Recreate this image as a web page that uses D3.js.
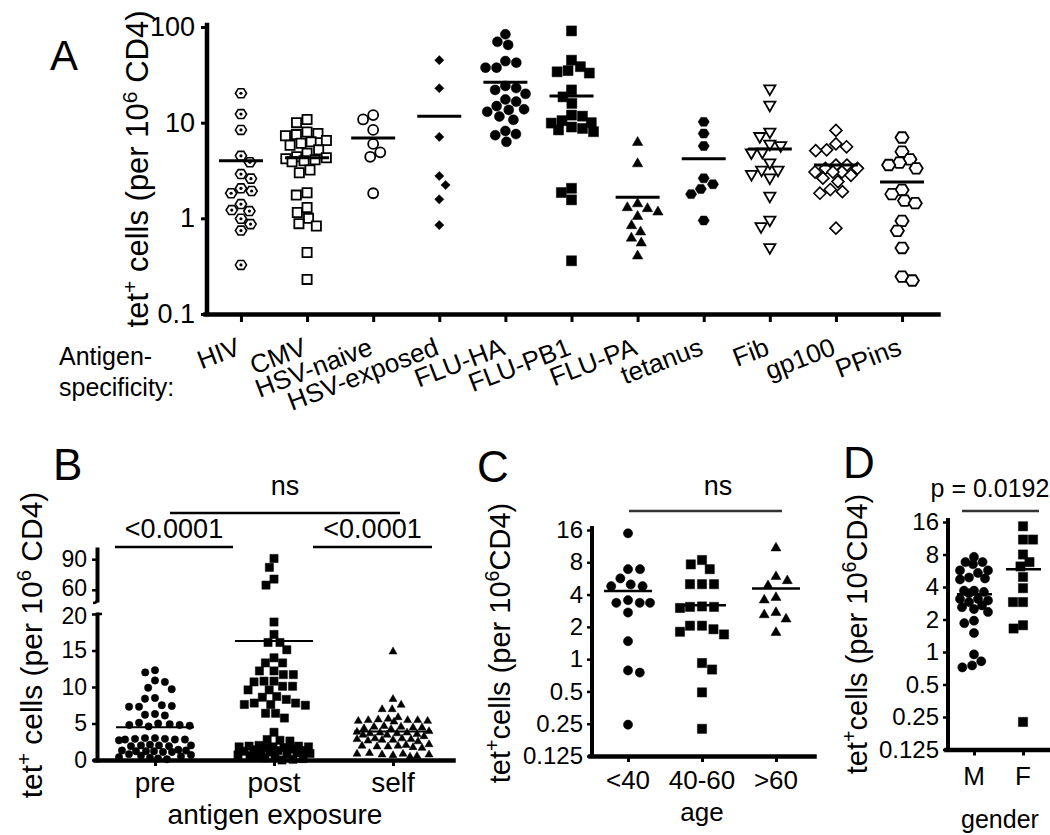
<!DOCTYPE html>
<html><head><meta charset="utf-8">
<script src="https://cdn.jsdelivr.net/npm/d3@7"></script>
<style>
body{margin:0;background:#fff}
svg{display:block}
text{font-family:"Liberation Sans",Arial,Helvetica,sans-serif;fill:#000}
</style>
</head><body>
<svg id="c" width="1050" height="835"></svg>
<script>
// ---------------- DATA ----------------
// Panel A
const catsA = ["HIV","CMV","HSV-naive","HSV-exposed","FLU-HA","FLU-PB1","FLU-PA","tetanus","Fib","gp100","PPins"];
const hivVals = [20.3,12.3,8.4,4.5,3.86,2.9,2.6,2.06,1.93,1.83,1.41,1.22,1.19,0.99,0.87,0.745,0.326];
const cmvVals = [10.8,10.0,8.0,7.7,7.5,7.3,6.5,6.3,6.1,5.8,5.2,4.8,4.4,4.3,4.2,4.1,4.0,3.9,3.2,3.0,1.85,1.75,1.3,1.15,1.0,0.88,0.83,0.44,0.23];
const hsvNaiveVals = [12.0,10.8,8.4,6.0,4.9,4.4,1.83];
const hsvExposedVals = [45,22.9,7.1,2.77,2.23,1.58,0.85];
const fluHaVals = [84,70,65,44,42.4,37.6,37.6,24.2,23,22,20,17.5,16.6,14.9,13.8,13.6,13,11.6,10.7,8.2,7.6,7.4,6.3];
const fluPb1Vals = [91,45,38.5,35,34,33,22,18.6,15.9,12.0,11.7,10.5,10.0,9.9,9.0,8.7,8.4,8.05,2.06,1.86,1.56,0.36];
const fluPaVals = [6.3,3.77,1.44,1.31,1.28,1.18,1.06,0.85,0.73,0.63,0.56,0.41];
const tetanusVals = [10.2,7.7,5.7,2.62,2.27,2.03,1.79,0.95];
const fibVals = [22.3,15.1,7.9,7.1,5.9,5.7,4.86,4.8,3.77,3.16,3.16,2.85,2.62,1.69,0.95,0.81,0.49];
const gp100Vals = [8.3,6.0,5.6,5.2,5.1,3.6,3.6,3.33,3.33,3.05,3.05,3.05,2.82,2.63,2.42,2.0,1.9,1.83,0.79];
const ppinsVals = [7.0,4.98,4.14,3.82,3.61,3.33,1.98,1.79,1.53,1.44,0.94,0.74,0.49,0.246,0.224];
const meansA = [4.0,4.3,6.9,11.7,26.4,19.0,1.66,4.2,5.3,3.6,2.4];
const ticksA = [0.1,1,10,100];

// Panel B
const catsB = ["pre","post","self"];
const preVals = [12.3,12.0,10.9,10.7,9.9,9.7,8.5,8.4,7.5,7.4,7.3,7.3,6.3,6.2,6.1,5.1,5.0,4.9,4.8,4.8,4.7,4.6,3.0,3.0,2.9,2.9,2.8,2.8,2.8,2.7,2.1,2.0,2.0,2.0,1.9,1.9,1.4,1.3,1.3,1.2,1.2,1.2,1.1,1.1,0.8,0.7,0.6,0.5,0.4,0.3,0.2,0.1];
const postVals = [90.7,82,70.5,64.6,18.9,17.2,16.1,16.1,15.1,14.0,13.3,13.3,12.2,12.2,11.7,11.7,10.8,10.8,10.7,10.1,10.1,9.6,9.6,8.7,8.6,8.3,7.8,7.8,7.6,7.6,7.5,6.4,6.4,5.75,3.8,2.8,2.7,2.6,2.0,1.9,1.9,1.8,1.8,1.8,1.7,1.7,1.5,1.4,1.3,1.3,1.2,1.2,1.1,1.0,0.9,0.8,0.7,0.6,0.5,0.4,0.3,0.2,0.1,0.0];
const selfVals = [14.9,8.4,7.6,7.0,7.0,5.9,5.7,5.6,5.5,5.5,5.5,5.4,5.4,5.3,4.7,4.6,4.6,4.5,4.5,4.4,4.3,4.0,3.9,3.8,3.8,3.7,3.7,3.6,3.5,3.5,3.3,3.0,3.0,2.9,2.9,2.8,2.8,2.7,2.6,2.2,2.1,2.0,2.0,1.9,1.9,1.8,1.7,1.0,0.9,0.9,0.8,0.8,0.7,0.6,0.5];
const meansB = [4.5,16.3,3.9];
const ticksBLow = [0,5,10,15,20];
const ticksBHigh = [60,90];
const sigB = [{a:"pre",b:"post",label:"<0.0001"},{a:"post",b:"self",label:"<0.0001"},{a:"pre",b:"self",label:"ns"}];

// Panel C
const catsC = ["<40","40-60",">60"];
const ageLt40 = [14.9,6.9,6.9,5.66,4.97,4.79,4.79,3.55,3.35,3.35,3.35,2.72,1.47,0.785,0.75,0.245];
const age40to60 = [8.4,7.65,6.9,5.0,5.0,5.0,3.1,3.07,3.07,3.0,2.05,2.05,1.9,1.8,1.7,0.92,0.8,0.49,0.224];
const ageGt60 = [11.0,5.94,5.45,4.9,3.8,3.6,2.75,2.62,2.39,1.79];
const meansC = [4.33,3.18,4.56];
const ticksLog2 = [0.125,0.25,0.5,1,2,4,8,16];

// Panel D
const catsD = ["M","F"];
const maleVals = [7.6,6.8,6.8,6.5,5.7,5.7,5.4,4.9,4.8,4.7,3.7,3.7,3.6,3.5,3.1,3.1,3.0,2.9,2.7,2.6,2.5,2.35,1.95,1.85,1.5,0.95,0.82,0.75,0.72];
const femaleVals = [14.6,11.0,11.0,8.0,6.8,6.2,4.95,3.9,2.9,2.9,1.77,1.65,0.225];
const meansD = [3.42,5.84];

// ---------------- HELPERS ----------------
const svg = d3.select("#c");
const FONT = '"Liberation Sans",Arial,Helvetica,sans-serif';

function swarm(vals, yf, d, maxHalf){
  maxHalf = maxHalf || 1e9;
  const pts = vals.map(v=>({v, y:yf(v)})).sort((a,b)=>a.y-b.y);
  const placed = [];
  pts.forEach((p,i)=>{
    const near = placed.filter(q=>Math.abs(q.y-p.y)<d);
    const cands=[0];
    near.forEach(q=>{const w=Math.sqrt(d*d-(q.y-p.y)**2); cands.push(q.dx+w,q.dx-w);});
    const ok = cands.filter(c=>Math.abs(c)<=maxHalf+1e-6 && near.every(q=>Math.hypot(c-q.dx,p.y-q.y)>=d-1e-6));
    if(ok.length){
      ok.sort((a,b)=>(Math.abs(a)-Math.abs(b)) || (i%2 ? a-b : b-a));
      p.dx = ok[0];
    } else {
      let best=0, bestScore=-1;
      const dir = i%2 ? 1 : -1;
      for(let k=0;k<=2*maxHalf;k++){
        const c = dir*(-maxHalf+k);
        const s = d3.min(near,q=>Math.hypot(c-q.dx,p.y-q.y));
        if(s>bestScore+1e-9){bestScore=s;best=c;}
      }
      p.dx = best;
    }
    placed.push(p);
  });
  return pts;
}

function shapePath(type, r){
  const p = d3.path();
  if(type==="circle"){ p.arc(0,0,r,0,2*Math.PI); p.closePath(); }
  else if(type==="square"){ p.rect(-r,-r,2*r,2*r); }
  else if(type==="triUp"){ const s=2*r, h=s*0.866; p.moveTo(0,-h*0.6); p.lineTo(s/2,h*0.4); p.lineTo(-s/2,h*0.4); p.closePath(); }
  else if(type==="triDown"){ const s=2*r, h=s*0.866; p.moveTo(0,h*0.6); p.lineTo(s/2,-h*0.4); p.lineTo(-s/2,-h*0.4); p.closePath(); }
  else if(type==="diamond"){ p.moveTo(0,-r); p.lineTo(r,0); p.lineTo(0,r); p.lineTo(-r,0); p.closePath(); }
  else if(type==="hex"){ for(let k=0;k<6;k++){const a=k*Math.PI/3; const x=r*Math.cos(a), y=r*0.92*Math.sin(a); k?p.lineTo(x,y):p.moveTo(x,y);} p.closePath(); }
  return p.toString();
}

function marker(g, st, x, y){
  const gg = g.append("g").attr("transform",`translate(${x},${y})`);
  gg.append("path").attr("d",shapePath(st.shape,st.r))
    .attr("fill",st.fill?"#000":"#fff").attr("stroke","#000").attr("stroke-width",st.fill?0.5:st.sw||1.8);
  if(st.dot) gg.append("circle").attr("r",1.6).attr("fill","#000");
}

function yTitle(x, y, size, gap){
  const t = svg.append("text").attr("transform",`translate(${x},${y}) rotate(-90)`)
    .attr("text-anchor","middle").style("font-size",size+"px");
  const ss = (size*0.68)+"px";
  t.append("tspan").text("tet");
  t.append("tspan").attr("baseline-shift","super").style("font-size",ss).text("+");
  t.append("tspan").text(gap?" cells (per 10":"cells (per 10");
  t.append("tspan").attr("baseline-shift","super").style("font-size",ss).text("6");
  t.append("tspan").text(gap?" CD4)":"CD4)");
}

function styleAxis(g, domW, tickW, fs){
  g.select(".domain").attr("stroke","#000").attr("stroke-width",domW).attr("stroke-linecap","square");
  g.selectAll(".tick line").attr("stroke","#000").attr("stroke-width",tickW);
  g.selectAll(".tick text").attr("fill","#000").style("font-size",fs+"px").style("font-family",FONT);
}

function label(txt,x,y,size,anchor){
  return svg.append("text").attr("x",x).attr("y",y).attr("text-anchor",anchor||"middle").style("font-size",size+"px").text(txt);
}

// ---------------- PANEL A ----------------
const yA = d3.scaleLog().domain([0.1,100]).range([314,27]);
const xA = d3.scalePoint().domain(catsA).range([205,938]).padding(0.544);
const seriesA = [hivVals,cmvVals,hsvNaiveVals,hsvExposedVals,fluHaVals,fluPb1Vals,fluPaVals,tetanusVals,fibVals,gp100Vals,ppinsVals];
const stylesA = [
  {shape:"hex",r:5.6,fill:false,dot:true,sw:1.6},
  {shape:"square",r:4.6,fill:false,sw:1.8},
  {shape:"circle",r:5,fill:false,sw:1.8},
  {shape:"diamond",r:4.6,fill:true},
  {shape:"circle",r:5,fill:true},
  {shape:"square",r:5,fill:true},
  {shape:"triUp",r:5.2,fill:true},
  {shape:"hex",r:5.6,fill:true},
  {shape:"triDown",r:5.6,fill:false,sw:1.8},
  {shape:"diamond",r:6,fill:false,sw:1.6},
  {shape:"hex",r:6.6,fill:false,sw:1.8}
];
const gA = svg.append("g");
seriesA.forEach((vals,i)=>{
  const cx = xA(catsA[i]);
  swarm(vals,yA,11,22).forEach(p=>marker(gA,stylesA[i],cx+p.dx,p.y));
  gA.append("line").attr("x1",cx-22).attr("x2",cx+22).attr("y1",yA(meansA[i])).attr("y2",yA(meansA[i]))
    .attr("stroke","#000").attr("stroke-width",3);
});
const axAy = svg.append("g").attr("transform","translate(207,0)")
  .call(d3.axisLeft(yA).tickValues(ticksA).tickFormat(d3.format("~g")).tickSize(6).tickSizeOuter(0).tickPadding(6));
styleAxis(axAy,4.5,3,27);
axAy.select(".domain").attr("d","M0,314V25");
const axAx = svg.append("g").attr("transform","translate(0,314)")
  .call(d3.axisBottom(xA).tickSize(8).tickSizeOuter(0).tickFormat(""));
styleAxis(axAx,4.5,3,1);
catsA.forEach(c=>{
  svg.append("text").attr("transform",`translate(${xA(c)+1},354) rotate(-21)`)
    .attr("text-anchor","end").style("font-size","26px").text(c);
});
label("Antigen-",59,365,25,"start");
label("specificity:",59,396,25,"start");
yTitle(148,169,31,true);
label("A",50,70,42,"start");

// ---------------- PANEL B ----------------
const yBlow = d3.scaleLinear().domain([0,20]).range([760,614]);
const yBhigh = d3.scaleLinear().domain([50,100]).range([600,549]);
const yB = v => v<=20 ? yBlow(v) : yBhigh(v);
const xB = d3.scalePoint().domain(catsB).range([95,453]).padding(0.504);
const seriesB = [preVals,postVals,selfVals];
const stylesB = [{shape:"circle",r:3.7,fill:true},{shape:"square",r:4.1,fill:true},{shape:"triUp",r:4,fill:true}];
const gB = svg.append("g");
seriesB.forEach((vals,i)=>{
  const cx = xB(catsB[i]);
  swarm(vals,yB,10,36).forEach(p=>marker(gB,stylesB[i],cx+p.dx,p.y));
  gB.append("line").attr("x1",cx-39).attr("x2",cx+39).attr("y1",yB(meansB[i])).attr("y2",yB(meansB[i]))
    .attr("stroke","#000").attr("stroke-width",2);
});
const axBl = svg.append("g").attr("transform","translate(97,0)")
  .call(d3.axisLeft(yBlow).tickValues(ticksBLow).tickSize(5).tickSizeOuter(0).tickPadding(5));
styleAxis(axBl,4,2.5,23);
axBl.selectAll(".tick").filter(d=>d===20).select("text").attr("y",2);
const axBh = svg.append("g").attr("transform","translate(97,0)")
  .call(d3.axisLeft(yBhigh).tickValues(ticksBHigh).tickSize(5).tickSizeOuter(0).tickPadding(5));
styleAxis(axBh,4,2.5,23);
axBh.selectAll(".tick").filter(d=>d===60).select("text").attr("y",-2);
// break marks
svg.append("path").attr("d",`M97,${yBlow(20)}h5`).attr("stroke","#000").attr("stroke-width",2.5);
svg.append("path").attr("d",`M97,${yBhigh(50)}q0,3 -4,3`).attr("stroke","#000").attr("fill","none").attr("stroke-width",2.5);
const axBx = svg.append("g").attr("transform","translate(0,760)")
  .call(d3.axisBottom(xB).tickSize(6).tickSizeOuter(0).tickFormat(""));
styleAxis(axBx,4.5,3,1);
catsB.forEach(c=>label(c,xB(c),792,28));
label("antigen exposure",275,824,28);
// significance
sigB.forEach(s=>{
  const x1=xB(s.a), x2=xB(s.b);
  const top = s.label==="ns";
  const ly = top?513:547;
  const l = top ? [x1+15,x2+7] : (s.a==="pre" ? [x1-40,x2-41] : [x1+39,x2+39]);
  svg.append("line").attr("x1",l[0]).attr("x2",l[1]).attr("y1",ly).attr("y2",ly).attr("stroke","#000").attr("stroke-width",2.5);
  label(s.label,(l[0]+l[1])/2,top?495:538,27);
});
yTitle(42,645,30,true);
label("B",53,480,44,"start");

// ---------------- PANEL C ----------------
const yC = d3.scaleLog().base(2).domain([0.125,16]).range([756,530]);
const xC = d3.scalePoint().domain(catsC).range([590,814]).padding(0.514);
const seriesC = [ageLt40,age40to60,ageGt60];
const stylesC = [{shape:"circle",r:4.6,fill:true},{shape:"square",r:4.6,fill:true},{shape:"triUp",r:5,fill:true}];
const gC = svg.append("g");
seriesC.forEach((vals,i)=>{
  const cx = xC(catsC[i]);
  swarm(vals,yC,12,22).forEach(p=>marker(gC,stylesC[i],cx+p.dx,p.y));
  gC.append("line").attr("x1",cx-24).attr("x2",cx+24).attr("y1",yC(meansC[i])).attr("y2",yC(meansC[i]))
    .attr("stroke","#000").attr("stroke-width",2.5);
});
const axCy = svg.append("g").attr("transform","translate(592,0)")
  .call(d3.axisLeft(yC).tickValues(ticksLog2).tickFormat(d3.format("~g")).tickSize(5).tickSizeOuter(0).tickPadding(4));
styleAxis(axCy,4,2.5,24);
axCy.select(".domain").attr("d","M0,756V528");
const axCx = svg.append("g").attr("transform","translate(0,756)")
  .call(d3.axisBottom(xC).tickSize(6).tickSizeOuter(0).tickFormat(""));
styleAxis(axCx,4.5,3,1);
catsC.forEach(c=>label(c,xC(c),789,26));
label("age",702,821,26);
svg.append("line").attr("x1",629).attr("x2",782).attr("y1",511).attr("y2",511).attr("stroke","#333").attr("stroke-width",2.5);
label("ns",718,495,27);
yTitle(510,643,29,false);
label("C",477,482,44,"start");

// ---------------- PANEL D ----------------
const yD = d3.scaleLog().base(2).domain([0.125,16]).range([749.5,522]);
const xD = d3.scalePoint().domain(catsD).range([946,1051]).padding(0.571);
const seriesD = [maleVals,femaleVals];
const stylesD = [{shape:"circle",r:4.6,fill:true},{shape:"square",r:4.6,fill:true}];
const gD = svg.append("g");
seriesD.forEach((vals,i)=>{
  const cx = xD(catsD[i]);
  swarm(vals,yD,10,14).forEach(p=>marker(gD,stylesD[i],cx+p.dx,p.y));
  gD.append("line").attr("x1",cx-17).attr("x2",cx+18).attr("y1",yD(meansD[i])).attr("y2",yD(meansD[i]))
    .attr("stroke","#000").attr("stroke-width",2.5);
});
const axDy = svg.append("g").attr("transform","translate(948,0)")
  .call(d3.axisLeft(yD).tickValues(ticksLog2).tickFormat(d3.format("~g")).tickSize(5).tickSizeOuter(0).tickPadding(4));
styleAxis(axDy,4,2.5,24);
axDy.select(".domain").attr("d","M0,749.5V520");
const axDx = svg.append("g").attr("transform","translate(0,749.5)")
  .call(d3.axisBottom(xD).tickSize(6).tickSizeOuter(0).tickFormat(""));
styleAxis(axDx,4.5,3,1);
catsD.forEach(c=>label(c,xD(c),785,26));
label("gender",1000,828,25);
svg.append("line").attr("x1",962).attr("x2",1039).attr("y1",511).attr("y2",511).attr("stroke","#333").attr("stroke-width",2.5);
label("p = 0.0192",990,497,25);
yTitle(867,634,29,false);
label("D",843,478,44,"start");
</script>
</body></html>
